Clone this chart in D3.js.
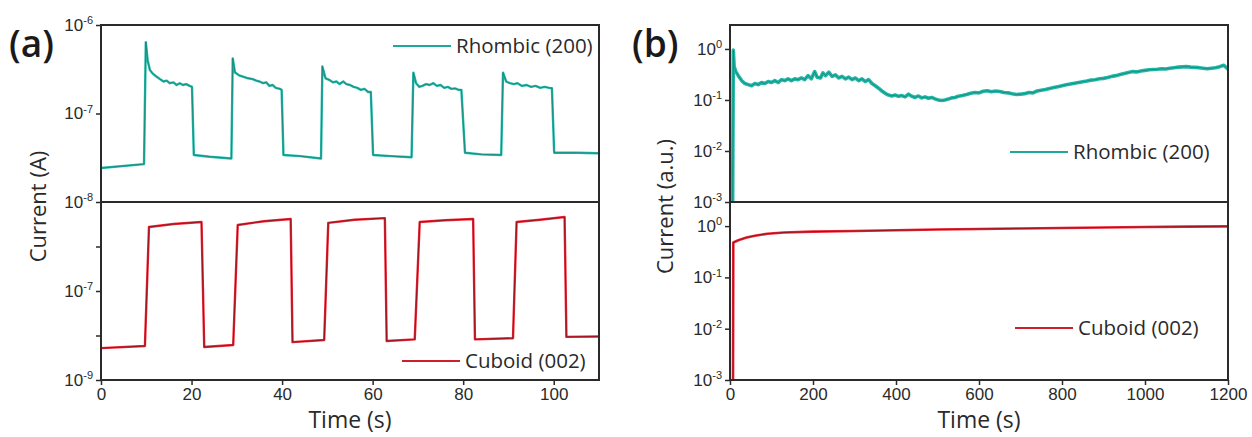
<!DOCTYPE html>
<html>
<head>
<meta charset="utf-8">
<script src="https://cdn.jsdelivr.net/npm/d3@7"></script>
<style>
  body { margin: 0; background: #fff; }
  svg { font-family: "Open Sans", "Noto Sans", sans-serif; }
</style>
</head>
<body>
<div id="chart"></div>
<script>
// ---- datos ----
// (a) respuesta on/off, Rhombic (200)
const rhombicTimeA = [0, 9.5, 9.9, 10.3, 10.8, 11.5, 12.3, 13.0, 13.8, 14.5, 15.2, 16.0, 16.7, 17.4, 18.1, 18.8, 19.6, 20.1, 20.5,
  24, 28.8, 29.1, 29.6, 30.5, 31.5, 32.5, 33.5, 34.3, 35.0, 35.8, 36.5, 37.2, 37.9, 38.6, 39.5, 39.9, 40.3,
  44, 48.6, 48.9, 49.6, 50.4, 51.2, 52.0, 52.7, 53.5, 54.2, 55.0, 55.8, 56.6, 57.4, 58.2, 59.0, 59.6, 60.1,
  64, 68.6, 69.0, 69.6, 70.3, 71.0, 71.8, 72.6, 73.4, 74.2, 75.0, 75.8, 76.6, 77.4, 78.2, 79.0, 79.6, 80.4,
  84, 88.4, 88.8, 89.5, 90.3, 91.2, 92.0, 93.0, 94.0, 95.0, 96.0, 97.0, 98.0, 99.0, 99.6, 100.1, 105, 110]
const rhombicCurrentA = [2.42e-8, 2.68e-8, 6.4e-7, 4.0e-7, 3.1e-7, 2.8e-7, 2.6e-7, 2.45e-7, 2.3e-7, 2.35e-7, 2.2e-7, 2.25e-7, 2.1e-7, 2.2e-7, 2.1e-7, 2.15e-7, 2.05e-7, 2.0e-7, 3.4e-8,
  3.25e-8, 3.1e-8, 4.2e-7, 2.9e-7, 2.7e-7, 2.6e-7, 2.5e-7, 2.45e-7, 2.35e-7, 2.3e-7, 2.2e-7, 2.25e-7, 2.05e-7, 2.1e-7, 1.95e-7, 1.9e-7, 1.85e-7, 3.4e-8,
  3.3e-8, 3.1e-8, 3.4e-7, 2.5e-7, 2.4e-7, 2.25e-7, 2.3e-7, 2.15e-7, 2.3e-7, 2.15e-7, 2.1e-7, 2.0e-7, 1.95e-7, 1.85e-7, 1.9e-7, 1.75e-7, 1.75e-7, 3.4e-8,
  3.3e-8, 3.2e-8, 2.9e-7, 2.2e-7, 2.0e-7, 2.05e-7, 2.15e-7, 2.1e-7, 2.2e-7, 2.05e-7, 2.1e-7, 1.95e-7, 2.0e-7, 1.9e-7, 1.92e-7, 1.85e-7, 1.85e-7, 3.6e-8,
  3.45e-8, 3.4e-8, 2.9e-7, 2.3e-7, 2.2e-7, 2.15e-7, 2.2e-7, 2.05e-7, 2.1e-7, 2.0e-7, 2.05e-7, 1.95e-7, 2.0e-7, 1.95e-7, 1.93e-7, 3.6e-8, 3.6e-8, 3.55e-8]

// (a) respuesta on/off, Cuboid (002)
const cuboidTimeA = [0, 9.7, 10.6, 16, 22.2, 22.8, 29.2, 30.2, 36, 41.9, 42.3, 49.3, 50.2, 56, 62.7, 63.1, 69.3, 70.4, 76, 82.2, 82.6, 91, 91.8, 97, 102.4, 102.8, 110]
const cuboidCurrentA = [5.2e-9, 5.8e-9, 2.75e-6, 3.2e-6, 3.55e-6, 5.5e-9, 6.1e-9, 3.05e-6, 3.7e-6, 4.15e-6, 7.1e-9, 7.9e-9, 3.4e-6, 4.0e-6, 4.35e-6, 7.5e-9, 8.2e-9, 3.55e-6, 3.9e-6, 4.15e-6, 8.2e-9, 8.7e-9, 3.55e-6, 4.0e-6, 4.6e-6, 9.3e-9, 9.5e-9]

// (b) estabilidad, Rhombic (200)
const rhombicTimeB = [6, 8, 10, 14, 20, 28, 36, 44, 52, 60, 68, 76, 84, 92, 100, 108, 116, 124, 132, 140, 148, 156, 164, 172, 180, 188, 196, 204, 210, 218, 224, 230, 238, 246, 254, 262, 270, 278, 286, 294, 302, 310, 318, 326, 334, 342, 350, 358, 366, 374, 382, 390, 398, 406, 414, 422, 430, 438, 446, 454, 462, 470, 478, 486, 494, 502, 510, 518, 526, 534, 542, 550, 560, 570, 580, 590, 600, 610, 620, 630, 640, 650, 660, 670, 680, 690, 700, 710, 720, 730, 740, 750, 760, 770, 780, 790, 800, 810, 820, 830, 840, 850, 860, 870, 880, 890, 900, 910, 920, 930, 940, 950, 960, 970, 980, 990, 1000, 1010, 1020, 1030, 1040, 1050, 1060, 1070, 1080, 1090, 1100, 1110, 1120, 1130, 1140, 1150, 1160, 1170, 1180, 1190, 1200]
const rhombicCurrentB = [2e-4, 0.95, 0.45, 0.36, 0.3, 0.24, 0.21, 0.2, 0.19, 0.21, 0.2, 0.22, 0.21, 0.23, 0.22, 0.24, 0.22, 0.25, 0.24, 0.26, 0.24, 0.26, 0.25, 0.27, 0.25, 0.3, 0.26, 0.36, 0.28, 0.27, 0.34, 0.3, 0.35, 0.29, 0.31, 0.27, 0.29, 0.26, 0.28, 0.25, 0.27, 0.24, 0.26, 0.23, 0.25, 0.21, 0.19, 0.17, 0.15, 0.135, 0.125, 0.12, 0.125, 0.118, 0.122, 0.115, 0.13, 0.118, 0.112, 0.12, 0.11, 0.115, 0.108, 0.112, 0.105, 0.1, 0.098, 0.1, 0.104, 0.11, 0.112, 0.118, 0.122, 0.128, 0.135, 0.14, 0.138, 0.148, 0.152, 0.145, 0.15, 0.147, 0.14, 0.138, 0.132, 0.128, 0.13, 0.133, 0.14, 0.138, 0.15, 0.155, 0.16, 0.168, 0.175, 0.182, 0.19, 0.198, 0.205, 0.212, 0.22, 0.228, 0.235, 0.245, 0.25, 0.26, 0.265, 0.275, 0.29, 0.3, 0.315, 0.33, 0.345, 0.36, 0.355, 0.37, 0.38, 0.39, 0.395, 0.4, 0.41, 0.405, 0.42, 0.43, 0.44, 0.445, 0.45, 0.44, 0.435, 0.43, 0.42, 0.41, 0.42, 0.43, 0.45, 0.48, 0.4]

// (b) estabilidad, Cuboid (002)
const cuboidTimeB = [7, 8, 20, 40, 60, 90, 130, 200, 300, 400, 500, 600, 700, 800, 900, 1000, 1100, 1200]
const cuboidCurrentB = [1e-4, 0.48, 0.53, 0.6, 0.65, 0.71, 0.75, 0.78, 0.8, 0.83, 0.86, 0.88, 0.9, 0.92, 0.94, 0.96, 0.975, 0.99]

// ticks
const timeTicksA = [0, 20, 40, 60, 80, 100]
const timeTicksB = [0, 200, 400, 600, 800, 1000, 1200]
const yTicksTopA = [1e-8, 1e-7, 1e-6]
const yTicksBottomA = [1e-9, 1e-8, 1e-7, 1e-6]
const yLabelsBottomA = [1e-9, 1e-7]
const yTicksB = [1e-3, 1e-2, 1e-1, 1e0]

const cyan = "#22b8a8", cyanDark = "#16776f"
const red = "#ec2534", redDark = "#6e0d18"
const tinta = "#2a2a2a"

// ---- lienzo ----
const ancho = 1252, alto = 437
const svg = d3.select("#chart").append("svg")
  .attr("width", ancho).attr("height", alto)

const top0 = 25, mid = 202, bot = 380

const paneles = [
  { id: "a", x0: 101, x1: 599, xDom: [0, 110], xTicks: timeTicksA,
    sub: [
      { y0: top0, y1: mid, dom: [1e-8, 1e-6], ticks: yTicksTopA, labels: yTicksTopA, ancho: 2.4,
        t: rhombicTimeA, v: rhombicCurrentA, color: cyan, dark: cyanDark, name: "Rhombic (200)", leg: [292, 21] },
      { y0: mid, y1: bot, dom: [1e-9, 1e-5], ticks: yTicksBottomA, labels: yLabelsBottomA, ancho: 2.4,
        t: cuboidTimeA, v: cuboidCurrentA, color: red, dark: redDark, name: "Cuboid (002)", leg: [301, 159] }
    ], ytitle: "Current (A)", ytx: 46, tag: "(a)", tagx: 9 },
  { id: "b", x0: 730, x1: 1228, xDom: [0, 1200], xTicks: timeTicksB,
    sub: [
      { y0: top0, y1: mid, dom: [1e-3, 2.95], ticks: yTicksB, labels: yTicksB, ancho: 3.6,
        t: rhombicTimeB, v: rhombicCurrentB, color: cyan, dark: cyanDark, name: "Rhombic (200)", leg: [280, 127] },
      { y0: mid, y1: bot, dom: [1e-3, 2.95], ticks: yTicksB, labels: yTicksB, ancho: 2.6,
        t: cuboidTimeB, v: cuboidCurrentB, color: red, dark: redDark, name: "Cuboid (002)", leg: [285, 126] }
    ], ytitle: "Current (a.u.)", ytx: 673, tag: "(b)", tagx: 632 }
]

function expo(d) {
  return String(Math.round(Math.log10(d)))
}

paneles.forEach(p => {
  const x = d3.scaleLinear().domain(p.xDom).range([p.x0, p.x1])

  p.sub.forEach((s, i) => {
    const y = d3.scaleLog().domain(s.dom).range([s.y1, s.y0])
    const clipId = "clip-" + p.id + i
    svg.append("clipPath").attr("id", clipId)
      .append("rect").attr("x", p.x0).attr("y", s.y0)
      .attr("width", p.x1 - p.x0).attr("height", s.y1 - s.y0)

    const serie = s.t.map((t, k) => [t, s.v[k]])
    const linea = d3.line().x(d => x(d[0])).y(d => y(d[1]))

    const g = svg.append("g").attr("clip-path", "url(#" + clipId + ")")
    g.append("path").datum(serie).attr("d", linea)
      .attr("fill", "none").attr("stroke", s.color).attr("stroke-width", s.ancho)
      .attr("stroke-linejoin", "round")
    g.append("path").datum(serie).attr("d", linea)
      .attr("fill", "none").attr("stroke", s.dark).attr("stroke-width", 0.9)
      .attr("stroke-opacity", 0.75).attr("stroke-linejoin", "round")

    // eje y
    const ejeY = svg.append("g")
      .attr("transform", "translate(" + p.x0 + ",0)")
      .call(d3.axisLeft(y).tickValues(s.ticks).tickSize(5).tickSizeOuter(0).tickPadding(3)
        .tickFormat(d => s.labels.includes(d) ? "10" : ""))
    ejeY.select(".domain").remove()
    ejeY.selectAll(".tick line").attr("stroke", tinta).attr("stroke-width", 1.5)
    ejeY.selectAll(".tick text")
      .attr("font-size", 17).attr("fill", tinta).attr("font-family", null)
      .each(function(d) {
        if (!s.labels.includes(d)) return
        d3.select(this).append("tspan").attr("font-size", 11).attr("dy", "-0.6em").text(expo(d))
      })

    // leyenda
    const lx = p.x0 + s.leg[0], ly = s.y0 + s.leg[1]
    svg.append("line").attr("x1", lx).attr("x2", lx + 58).attr("y1", ly).attr("y2", ly)
      .attr("stroke", s.color).attr("stroke-width", 2.2)
    svg.append("line").attr("x1", lx).attr("x2", lx + 58).attr("y1", ly).attr("y2", ly)
      .attr("stroke", s.dark).attr("stroke-width", 0.7).attr("stroke-opacity", 0.7)
    svg.append("text").attr("x", lx + 63).attr("y", ly + 7)
      .attr("font-size", 20.5).attr("fill", tinta).text(s.name)
  })

  // eje x
  const ejeX = svg.append("g")
    .attr("transform", "translate(0," + bot + ")")
    .call(d3.axisBottom(x).tickValues(p.xTicks).tickSize(5).tickSizeOuter(0).tickPadding(3)
      .tickFormat(d3.format("d")))
  ejeX.select(".domain").remove()
  ejeX.selectAll(".tick line").attr("stroke", tinta).attr("stroke-width", 1.5)
  ejeX.selectAll(".tick text").attr("font-size", 17).attr("fill", tinta).attr("font-family", null)

  // marco
  svg.append("rect").attr("x", p.x0).attr("y", top0)
    .attr("width", p.x1 - p.x0).attr("height", bot - top0)
    .attr("fill", "none").attr("stroke", tinta).attr("stroke-width", 2)
  svg.append("line").attr("x1", p.x0).attr("x2", p.x1).attr("y1", mid).attr("y2", mid)
    .attr("stroke", tinta).attr("stroke-width", 2)

  // titulos
  svg.append("text").attr("x", (p.x0 + p.x1) / 2).attr("y", 428)
    .attr("text-anchor", "middle").attr("font-size", 23).attr("fill", tinta).text("Time (s)")
  svg.append("text")
    .attr("transform", "translate(" + p.ytx + "," + ((top0 + bot) / 2 + 4) + ") rotate(-90)")
    .attr("text-anchor", "middle").attr("font-size", 22).attr("fill", tinta).text(p.ytitle)
  svg.append("text").attr("x", p.tagx).attr("y", 57)
    .attr("font-size", 37).attr("font-weight", 600).attr("fill", "#1a1a1a").text(p.tag)
})
</script>
</body>
</html>
